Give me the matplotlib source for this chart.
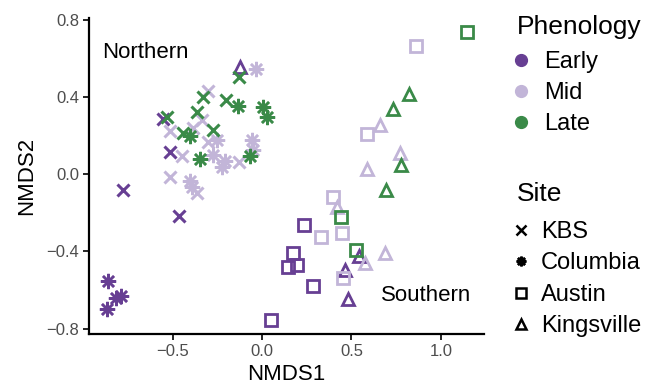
import matplotlib.pyplot as plt
from matplotlib.lines import Line2D

plt.rcParams['font.family'] = ['Liberation Sans', 'DejaVu Sans']

# NMDS scores, one pair of lists per phenology x site
early_kbs_x = [-0.777, -0.464, -0.514, -0.553]
early_kbs_y = [-0.083, -0.218, 0.114, 0.285]
early_col_x = [-0.860, -0.816, -0.788, -0.866]
early_col_y = [-0.554, -0.642, -0.632, -0.699]
early_aus_x = [0.235, 0.173, 0.145, 0.196, 0.285, 0.050]
early_aus_y = [-0.264, -0.409, -0.482, -0.472, -0.580, -0.756]
early_kin_x = [-0.123, 0.542, 0.464, 0.480]
early_kin_y = [0.554, -0.425, -0.497, -0.648]

mid_kbs_x = [-0.302, -0.335, -0.385, -0.514, -0.302, -0.447, -0.128, -0.514, -0.363]
mid_kbs_y = [0.430, 0.280, 0.238, 0.223, 0.166, 0.093, 0.062, -0.016, -0.098]
mid_col_x = [-0.034, -0.251, -0.056, -0.274, -0.207, -0.223, -0.050, -0.402, -0.391]
mid_col_y = [0.544, 0.176, 0.176, 0.098, 0.067, 0.036, 0.124, -0.036, -0.067]
mid_aus_x = [0.860, 0.587, 0.397, 0.330, 0.447, 0.453]
mid_aus_y = [0.663, 0.207, -0.119, -0.327, -0.306, -0.539]
mid_kin_x = [0.659, 0.771, 0.587, 0.419, 0.575, 0.687]
mid_kin_y = [0.254, 0.109, 0.026, -0.171, -0.461, -0.409]

late_kbs_x = [-0.128, -0.330, -0.201, -0.363, -0.531, -0.274, -0.441]
late_kbs_y = [0.503, 0.399, 0.383, 0.321, 0.295, 0.228, 0.212]
late_col_x = [-0.134, 0.006, 0.028, -0.346, -0.067, -0.402]
late_col_y = [0.352, 0.347, 0.295, 0.078, 0.093, 0.197]
late_aus_x = [1.145, 0.441, 0.525]
late_aus_y = [0.736, -0.223, -0.394]
late_kin_x = [0.821, 0.732, 0.777, 0.693]
late_kin_y = [0.414, 0.337, 0.047, -0.083]

phenology = ['Early', 'Mid', 'Late']
sites = ['KBS', 'Columbia', 'Austin', 'Kingsville']
colors = {'Early': '#673f93', 'Mid': '#c2b5d8', 'Late': '#3a8a48'}
markers = {'KBS': 'x', 'Columbia': (8, 2, 0), 'Austin': 's', 'Kingsville': '^'}

groups = {
    ('Early', 'KBS'): (early_kbs_x, early_kbs_y),
    ('Early', 'Columbia'): (early_col_x, early_col_y),
    ('Early', 'Austin'): (early_aus_x, early_aus_y),
    ('Early', 'Kingsville'): (early_kin_x, early_kin_y),
    ('Mid', 'KBS'): (mid_kbs_x, mid_kbs_y),
    ('Mid', 'Columbia'): (mid_col_x, mid_col_y),
    ('Mid', 'Austin'): (mid_aus_x, mid_aus_y),
    ('Mid', 'Kingsville'): (mid_kin_x, mid_kin_y),
    ('Late', 'KBS'): (late_kbs_x, late_kbs_y),
    ('Late', 'Columbia'): (late_col_x, late_col_y),
    ('Late', 'Austin'): (late_aus_x, late_aus_y),
    ('Late', 'Kingsville'): (late_kin_x, late_kin_y),
}

fig = plt.figure(figsize=(6.46, 3.85), dpi=100)
ax = fig.add_axes([0.138, 0.132, 0.611, 0.821])

for (ph, site), (xs, ys) in groups.items():
    c = colors[ph]
    if site in ('Austin', 'Kingsville'):
        ax.plot(xs, ys, linestyle='none', marker=markers[site], markersize=8.5,
                markerfacecolor='none', markeredgecolor=c, markeredgewidth=2)
    elif site == 'Columbia':
        ax.plot(xs, ys, linestyle='none', marker=markers[site], markersize=11,
                color=c, markeredgewidth=1.8)
    else:
        ax.plot(xs, ys, linestyle='none', marker=markers[site], markersize=9,
                color=c, markeredgewidth=2.2)

ax.text(-0.894, 0.632, 'Northern', fontsize=16, va='center', ha='left')
ax.text(0.665, -0.627, 'Southern', fontsize=16, va='center', ha='left')

ax.set_xlim(-0.966, 1.24)
ax.set_ylim(-0.829, 0.808)
ax.set_xticks([-0.5, 0.0, 0.5, 1.0])
ax.set_yticks([-0.8, -0.4, 0.0, 0.4, 0.8])
ax.set_xticklabels(['\u22120.5', '0.0', '0.5', '1.0'])
ax.set_yticklabels(['\u22120.8', '\u22120.4', '0.0', '0.4', '0.8'])
ax.set_xlabel('NMDS1', fontsize=16, labelpad=4)
ax.set_ylabel('NMDS2', fontsize=16, labelpad=7)
for s in ['top', 'right']:
    ax.spines[s].set_visible(False)
for s in ['left', 'bottom']:
    ax.spines[s].set_linewidth(1.6)
ax.tick_params(length=4, width=1.2, labelsize=12, colors='black', pad=3)
ax.tick_params(labelcolor='#4d4d4d')

# legend titles as separate text so the gap to the first key matches
fig.text(517 / 646, 1 - 34 / 385, 'Phenology', fontsize=19, va='baseline', ha='left')
fig.text(517 / 646, 1 - 201 / 385, 'Site', fontsize=19, va='baseline', ha='left')

ph_handles = [Line2D([], [], linestyle='none', marker='o', markersize=8.5,
                     color=colors[p]) for p in phenology]
leg1 = fig.legend(ph_handles, phenology, loc='upper left',
                  bbox_to_anchor=(0.798, 1 - 51 / 385), frameon=False, fontsize=17,
                  handlelength=0.5, handletextpad=0.72, labelspacing=0.38,
                  borderaxespad=0, borderpad=0)

site_handles = [Line2D([], [], linestyle='none', marker=markers[s], markersize=7,
                       color='black', markerfacecolor='none' if s in ('Austin', 'Kingsville') else 'black',
                       markeredgewidth=1.8) for s in sites]
leg2 = fig.legend(site_handles, sites, loc='upper left',
                  bbox_to_anchor=(0.8015, 1 - 221 / 385), frameon=False, fontsize=17,
                  handlelength=0.3, handletextpad=0.68, labelspacing=0.4,
                  borderaxespad=0, borderpad=0)

fig.savefig('out.png', dpi=100)
